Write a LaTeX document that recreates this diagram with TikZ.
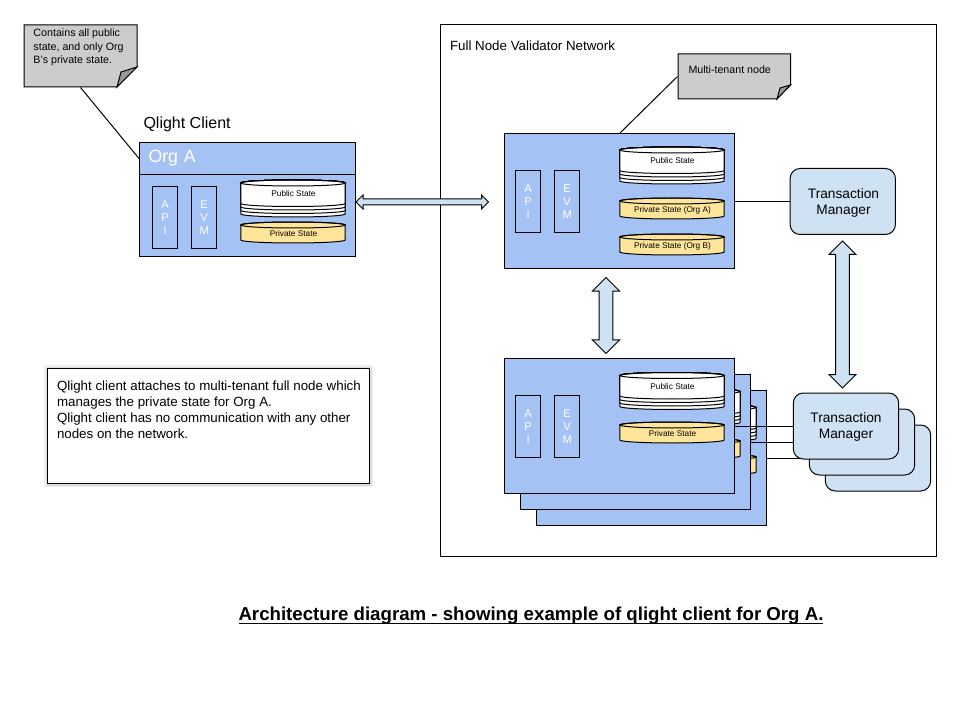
\documentclass[tikz,border=0pt]{standalone}
\usepackage{fontspec}
\setmainfont{Liberation Sans}
\usetikzlibrary{arrows.meta,positioning,calc,shapes.arrows}
\definecolor{nodeblue}{HTML}{A4C2F4}
\definecolor{linkblue}{HTML}{CFE2F3}
\definecolor{stateyellow}{HTML}{FFE599}
\definecolor{notegray}{HTML}{CCCCCC}
\definecolor{foldgray}{HTML}{999999}
\tikzset{
  nodebox/.style={draw, fill=nodeblue, anchor=north west, inner sep=0pt, minimum width=172.5pt, minimum height=101.25pt},
  stackbox/.style={draw, fill=nodeblue, anchor=north west, inner sep=0pt, minimum width=19pt, minimum height=46.5pt,
    text=white, align=center, font=\fontsize{8.4}{10}\selectfont},
  statetext/.style={inner sep=0pt, font=\fontsize{6.2}{7}\selectfont},
  tmbox/.style={draw, fill=linkblue, rounded corners=7.5pt, minimum width=79pt, minimum height=49.5pt, inner sep=0pt},
  tmtext/.style={inner sep=0pt, align=center, font=\fontsize{10.3}{12}\selectfont},
  notetext/.style={anchor=north west, inner sep=0pt, align=left, font=\fontsize{8}{10}\selectfont},
  softedge/.style={preaction={draw=black, draw opacity=.06, line width=5pt},
    preaction={draw=black, draw opacity=.08, line width=3pt}},
  hollow/.style n args={3}{to path={let \p1=(\tikztostart), \p2=(\tikztotarget),
      \n1={atan2(\y2-\y1,\x2-\x1)}, \n2={veclen(\x2-\x1,\y2-\y1)} in
      node[double arrow, draw, fill=linkblue, inner xsep=0pt, inner ysep=#1, rotate=\n1, minimum height=\n2,
        minimum width=#3, double arrow head extend=#2] at ($(\p1)!.5!(\p2)$) {}}},
}
% one disc of a state store: centre x, top y, height, fill
\newcommand{\statedisc}[4]{
  \draw[fill=#4] ({#1-52.2},{#2+3}) -- ({#1-52.2},{#2+#3-3})
    arc[x radius=39.15pt, y radius=2.25pt, start angle=180, end angle=360]
    -- ({#1+52.2},{#2+3}) arc[x radius=39.15pt, y radius=2.25pt, start angle=0, end angle=180] -- cycle;
  \draw ({#1},{#2+3}) ellipse[x radius=39.15pt, y radius=2.25pt];
}
\newcommand{\pubstack}[2]{
  \foreach \h in {37,33.5,30,26.5} {\statedisc{#1}{#2}{\h}{white}}
}
\newlength{\capwidth}
\newcommand{\capunder}[1]{\settowidth{\capwidth}{#1}#1\llap{\rule[-2.7pt]{\capwidth}{1.2pt}}}
\begin{document}
\begin{tikzpicture}[x=.75pt,y=-.75pt,line width=.75pt]
\useasboundingbox (0,0) rectangle (960,720);
% client side
\draw[fill=notegray] (24,25) -- (137,25) -- (137,67) -- (117,87) -- (24,87) -- cycle;
\draw[fill=foldgray] (117,87) -- (121,72) -- (137,67) -- cycle;
\node[notetext, minimum width=84.75pt, minimum height=46.5pt, anchor=center] (noteOrgB) at (80.5,56) {};
\node[notetext] (noteOrgBtext) at (33,28.5) {Contains all public\\state, and only Org\\B's private state.};
\node[anchor=west, inner sep=0pt, font=\fontsize{12}{14}\selectfont] (clientlabel) at (143,124) {Qlight Client};
\node[nodebox, minimum width=162pt, minimum height=24pt, text=white, text width=150pt, align=left,
  font=\fontsize{13.3}{16}\selectfont] (orgAhead) at (139,142) {\hspace*{.75pt}\raisebox{-1.5pt}{Org A}};
\node[nodebox, minimum width=162pt, minimum height=61.5pt] (orgA) at (139,174) {};
\node[stackbox] (apiO) at (152,186) {A\\P\\I};
\node[stackbox] (evmO) at (191,186) {E\\V\\M};
\pubstack{293}{180}
\node[statetext] (pubO) at (293.5,194) {Public State};
\statedisc{293}{222}{21}{stateyellow}
\node[statetext] (privO) at (293.5,234) {Private State};
\draw (noteOrgB.south) -- (orgAhead.west);
% validator network
\node[draw, anchor=north west, inner sep=0pt, minimum width=372pt, minimum height=398.25pt] (network) at (440,24.5) {};
\node[anchor=west, inner sep=0pt, font=\fontsize{10}{12}\selectfont] (networklabel) at (449.5,45.5) {Full Node Validator Network};
\draw[fill=notegray] (678,54) -- (790.5,54) -- (790.5,85) -- (777,99) -- (678,99) -- cycle;
\draw[fill=foldgray] (777,99) -- (780,88) -- (790.5,85) -- cycle;
\node[notetext, minimum width=84.4pt, minimum height=33.75pt, anchor=center] (noteTenant) at (734.25,76.5) {};
\node[notetext] (noteTenanttext) at (688,65) {Multi-tenant node};
\node[nodebox] (fullA) at (504,133.5) {};
\draw (noteTenant.west) -- (fullA.north);
\node[stackbox] (apiA) at (515,170) {A\\P\\I};
\node[stackbox] (evmA) at (554,170) {E\\V\\M};
\pubstack{672}{147}
\node[statetext] (pubA) at (672.5,161) {Public State};
\statedisc{672}{198}{21}{stateyellow}
\node[statetext] (privA) at (672.5,210) {Private State (Org A)};
\statedisc{672}{234}{21}{stateyellow}
\node[statetext] (privB) at (672.5,246) {Private State (Org B)};
\node[tmbox] (tmA) at (842.75,201.5) {};
\node[tmtext] (tmAtext) at (843.5,202.5) {Transaction\\Manager};
\draw (fullA.east) -- (tmA.west);
% replicas, back to front
\foreach \off/\nm in {32/D,16/C} {
  \node[nodebox] (full\nm) at (504+\off,358+\off) {};
  \pubstack{672+\off}{372.5+\off}
  \statedisc{672+\off}{422+\off}{21}{stateyellow}
}
\node[nodebox] (fullB) at (504,358) {};
\node[stackbox] (apiB) at (515,395) {A\\P\\I};
\node[stackbox] (evmB) at (554,395) {E\\V\\M};
\pubstack{672}{372.5}
\node[statetext] (pubB) at (672.5,386.5) {Public State};
\statedisc{672}{422}{21}{stateyellow}
\node[statetext] (privP) at (672.5,434) {Private State};
\node[tmbox] (tmD) at (878,458) {};
\draw (fullD.east) -- (tmD.west);
\node[tmbox] (tmC) at (862,442) {};
\draw (fullC.east) -- (tmC.west);
\node[tmbox] (tmB) at (846,426) {};
\draw (fullB.east) -- (tmB.west);
\node[tmtext] (tmBtext) at (846,426.5) {Transaction\\Manager};
% block links
\coordinate (clientTip) at (356,202);
\coordinate (fullTip) at (488.5,202);
\coordinate (peerTop) at (606,277.5);
\coordinate (peerBot) at (606,353.5);
\coordinate (tmTop) at (842.5,241);
\coordinate (tmBot) at (842.5,388);
\draw[hollow={1.875pt}{3pt}{9.75pt}] (clientTip) to (fullTip);
\draw[hollow={4.75pt}{5pt}{19.5pt}] (peerTop) to (peerBot);
\draw[hollow={4.75pt}{5pt}{19.5pt}] (tmTop) to (tmBot);
% caption and side note
\node[draw, fill=white, softedge, anchor=north west, inner sep=0pt, minimum width=241.5pt, minimum height=86.25pt] (sidebox) at (47,368) {};
\node[notetext, font=\fontsize{10}{12}\selectfont] (sidetext) at (56.5,380) {Qlight client attaches to multi-tenant full node which\\manages the private state for Org A.\\Qlight client has no communication with any other\\nodes on the network.};
\node[inner sep=0pt, anchor=base, font=\fontsize{14}{16}\selectfont\bfseries] (caption) at (531,620.7) {\capunder{Architecture diagram - showing example of qlight client for Org A.}};
\end{tikzpicture}
\end{document}
